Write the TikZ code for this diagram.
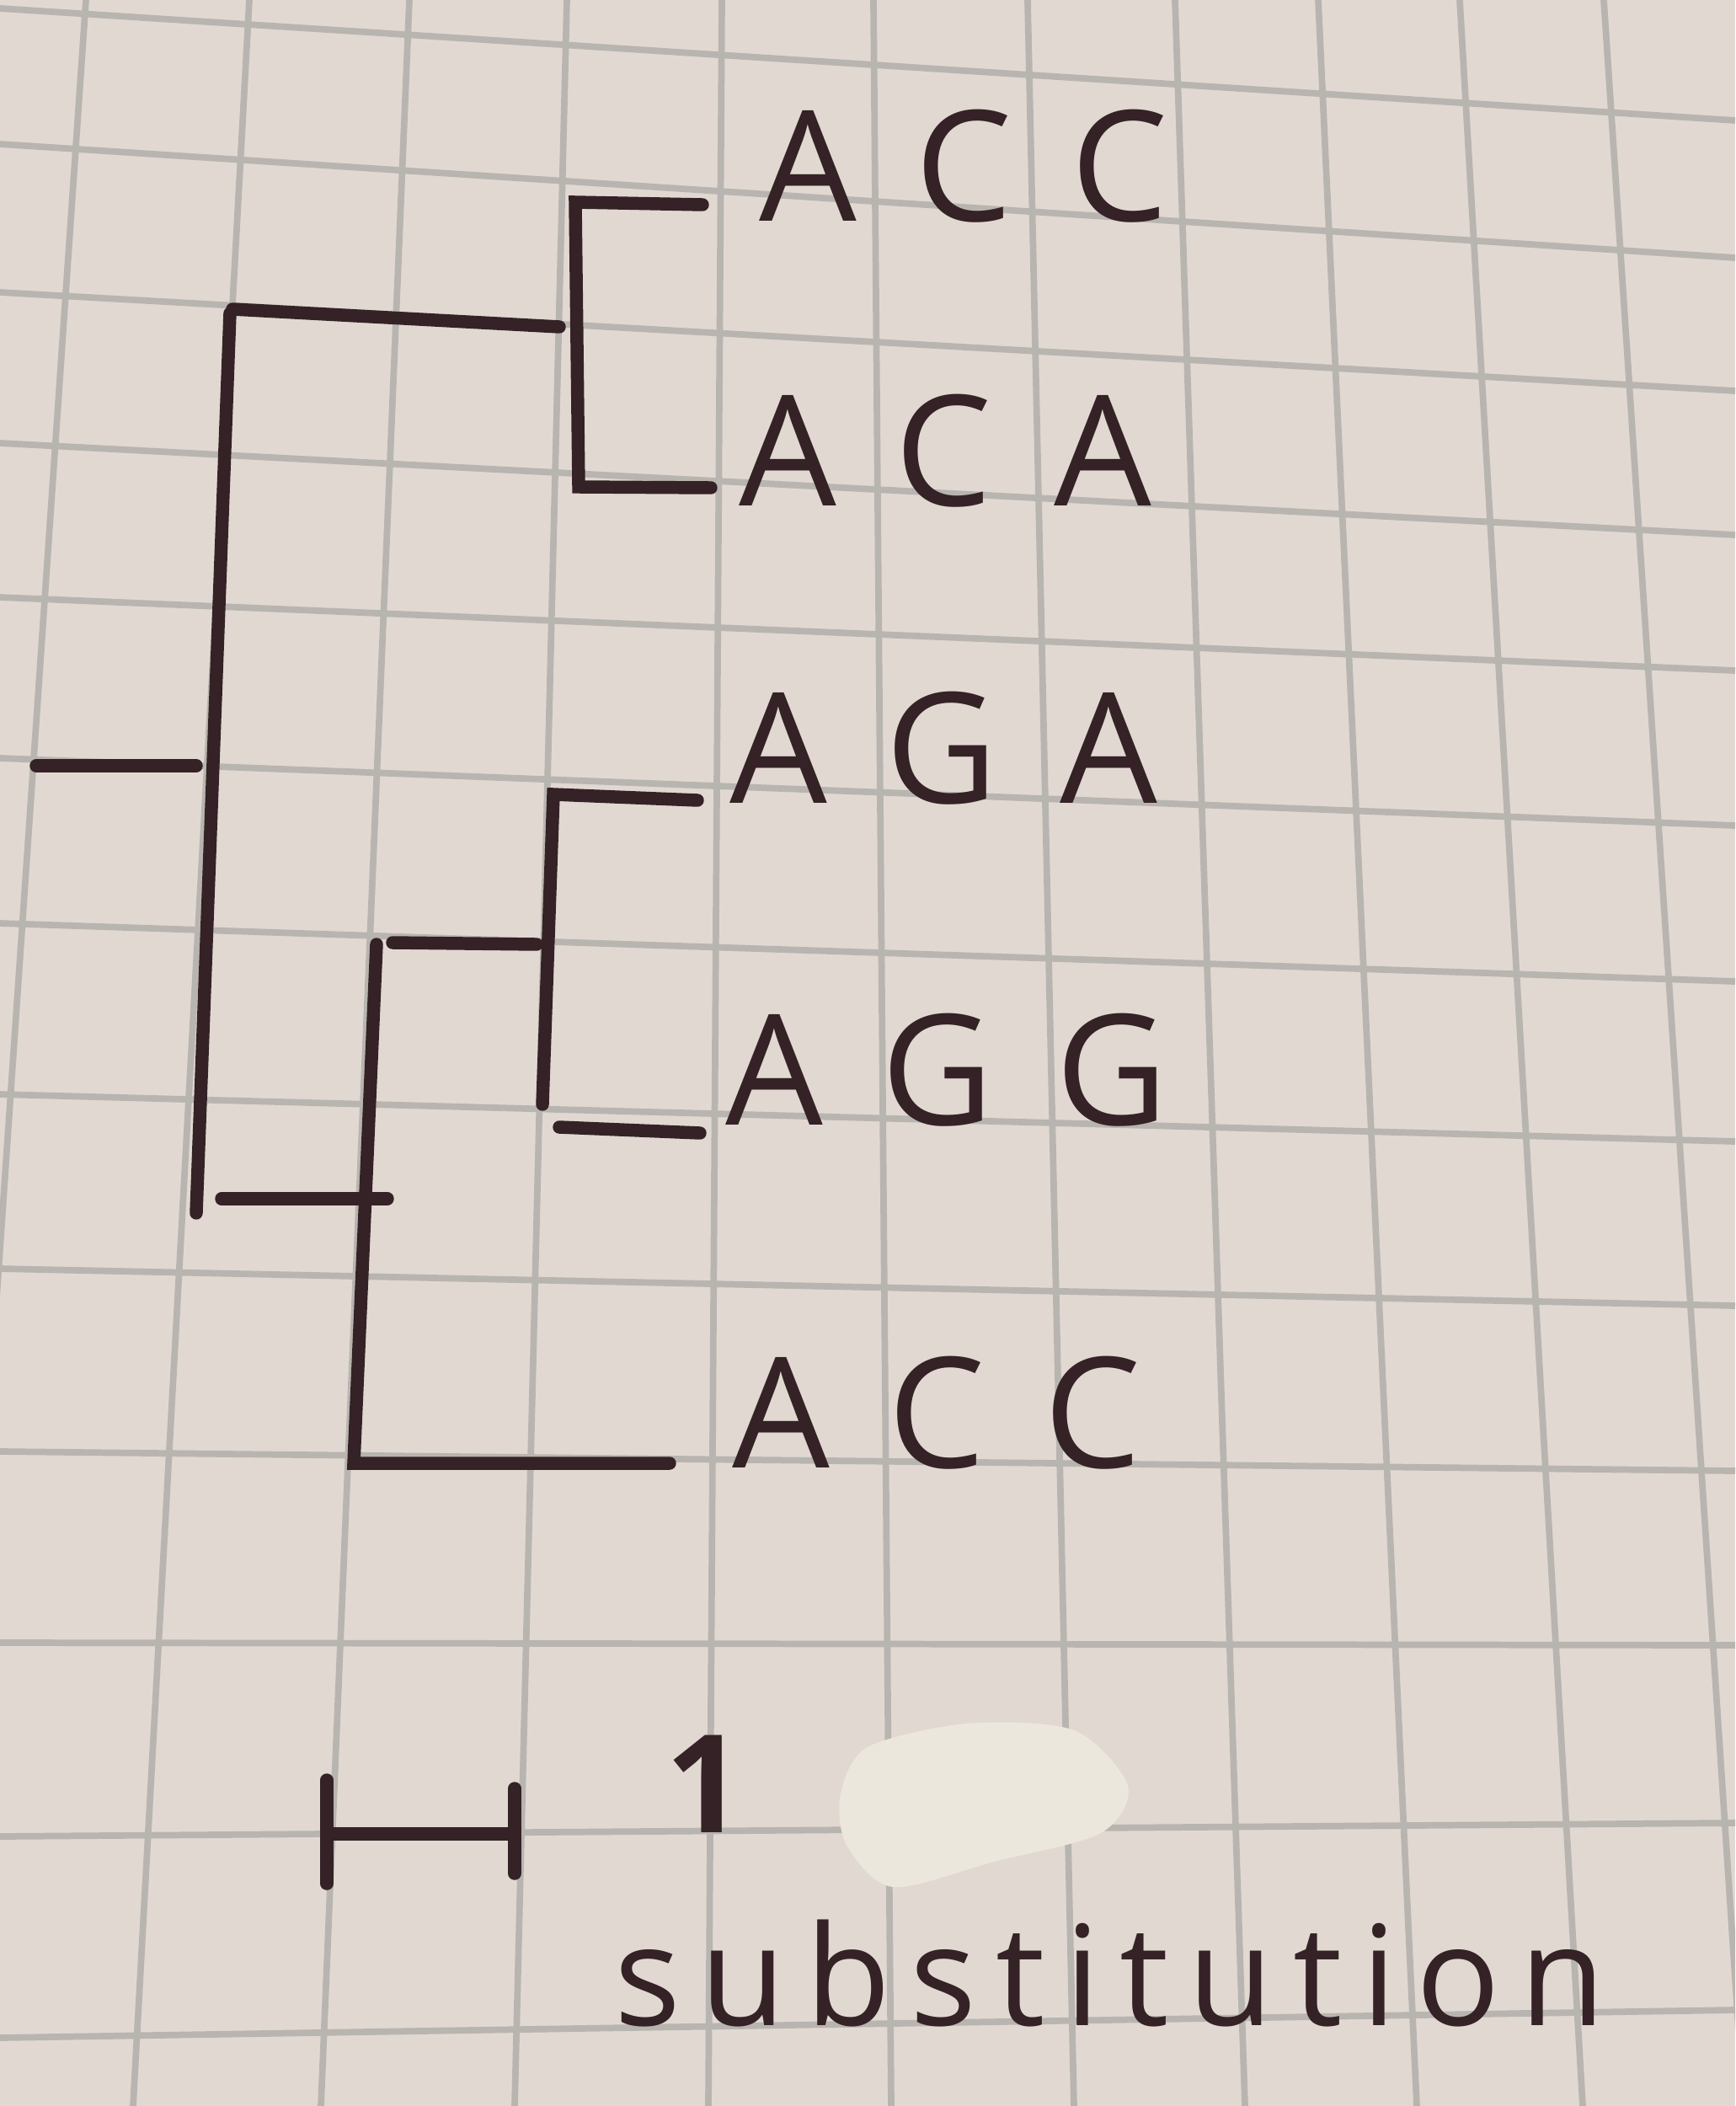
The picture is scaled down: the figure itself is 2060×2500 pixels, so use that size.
\documentclass[tikz,border=0pt]{standalone}
\usepackage{fontspec}
\setmainfont{Open Sans}
\definecolor{paper}{RGB}{226,216,210}
\definecolor{gridline}{RGB}{184,181,176}
\definecolor{ink}{RGB}{52,34,38}
\definecolor{blob}{RGB}{236,231,221}
\tikzset{
  branch/.style={draw=ink, line width=4.4pt, line cap=round, line join=miter},
  seq/.style={anchor=base west, inner sep=0pt, text=ink,
    font=\fontsize{52}{60}\selectfont\addfontfeature{LetterSpace=40}},
}
\begin{document}
\begin{tikzpicture}[x=0.01cm, y=-0.01cm]
  % 紙
  \fill[paper] (0,0) rectangle (2060,2500);
  \useasboundingbox (0,0) rectangle (2060,2500);

  % 方眼
  \begin{scope}
    \clip (0,0) rectangle (2060,2500);
    \foreach \xt/\xb in {102/-70, 296/158, 486/381, 673/611, 857/841, 1037/1058,
                         1220/1275, 1395/1478, 1565/1682, 1733/1879, 1904/2070}
      \draw[gridline, line width=2.2pt] (\xt,0) -- (\xb,2500);
    \foreach \yl/\yr in {10/143, 171/306, 347/464, 526/635, 709/796, 900/980,
                         1096/1165, 1299/1355, 1506/1550, 1723/1746, 1950/1953,
                         2180/2164, 2419/2386}
      \draw[gridline, line width=2.2pt] (0,\yl) -- (2060,\yr);
  \end{scope}

  % 修正液のあと
  \fill[blob] plot[smooth cycle] coordinates {(1148,2046) (1275,2054) (1339,2120)
    (1307,2176) (1180,2210) (1060,2240) (1005,2190) (998,2130) (1030,2074)};

  % 根
  \coordinate (R0) at (43,909);
  \coordinate (R1) at (233,909);
  \coordinate (M0) at (273,372);
  \coordinate (M1) at (233,1440);
  \draw[branch] (R0) -- (R1);
  \draw[branch] (M0) -- (M1);

  % 上のクレード
  \coordinate (T0) at (276,367);
  \coordinate (T1) at (664,388);
  \coordinate (Ttop) at (683,240);
  \coordinate (Tbot) at (687,578);
  \coordinate (L1) at (834,243);
  \coordinate (L2) at (844,579);
  \draw[branch] (T0) -- (T1);
  \draw[branch] (L1) -- (Ttop) -- (Tbot) -- (L2);

  % 下のクレード
  \coordinate (B0) at (263,1423);
  \coordinate (B1) at (460,1423);
  \coordinate (Itop) at (447,1121);
  \coordinate (Ibot) at (420,1737);
  \coordinate (L5) at (795,1737);
  \draw[branch] (B0) -- (B1);
  \draw[branch] (Itop) -- (Ibot) -- (L5);

  \coordinate (J0) at (466,1119);
  \coordinate (J1) at (637,1121);
  \coordinate (Gtop) at (657,943);
  \coordinate (Gbot) at (644,1311);
  \coordinate (L3) at (828,950);
  \coordinate (G4) at (664,1338);
  \coordinate (L4) at (831,1345);
  \draw[branch] (J0) -- (J1);
  \draw[branch] (L3) -- (Gtop) -- (Gbot);
  \draw[branch] (G4) -- (L4);

  % 配列
  \node[seq] (ACC1) at (901,262) {ACC};
  \node[seq] (ACA) at (877,600) {ACA};
  \node[seq] (AGA) at (866,953) {AGA};
  \node[seq] (AGG) at (861,1335) {AGG};
  \node[seq] (ACC2) at (869,1742) {ACC};

  % スケール
  \coordinate (S0) at (388,2177);
  \coordinate (S1) at (611,2177);
  \coordinate (S0a) at (388,2113);
  \coordinate (S0b) at (388,2236);
  \coordinate (S1a) at (611,2123);
  \coordinate (S1b) at (611,2224);
  \draw[branch] (S0) -- (S1);
  \draw[branch] (S0a) -- (S0b);
  \draw[branch] (S1a) -- (S1b);
  \node[anchor=base west, inner sep=0pt, text=ink,
    font=\fontsize{46}{54}\selectfont\bfseries] (one) at (790,2175) {1};
  \node[anchor=base west, inner sep=0pt, text=ink,
    font=\fontsize{47}{56}\selectfont\addfontfeature{LetterSpace=14}] (subst)
    at (729,2404) {substitution};
\end{tikzpicture}
\end{document}
